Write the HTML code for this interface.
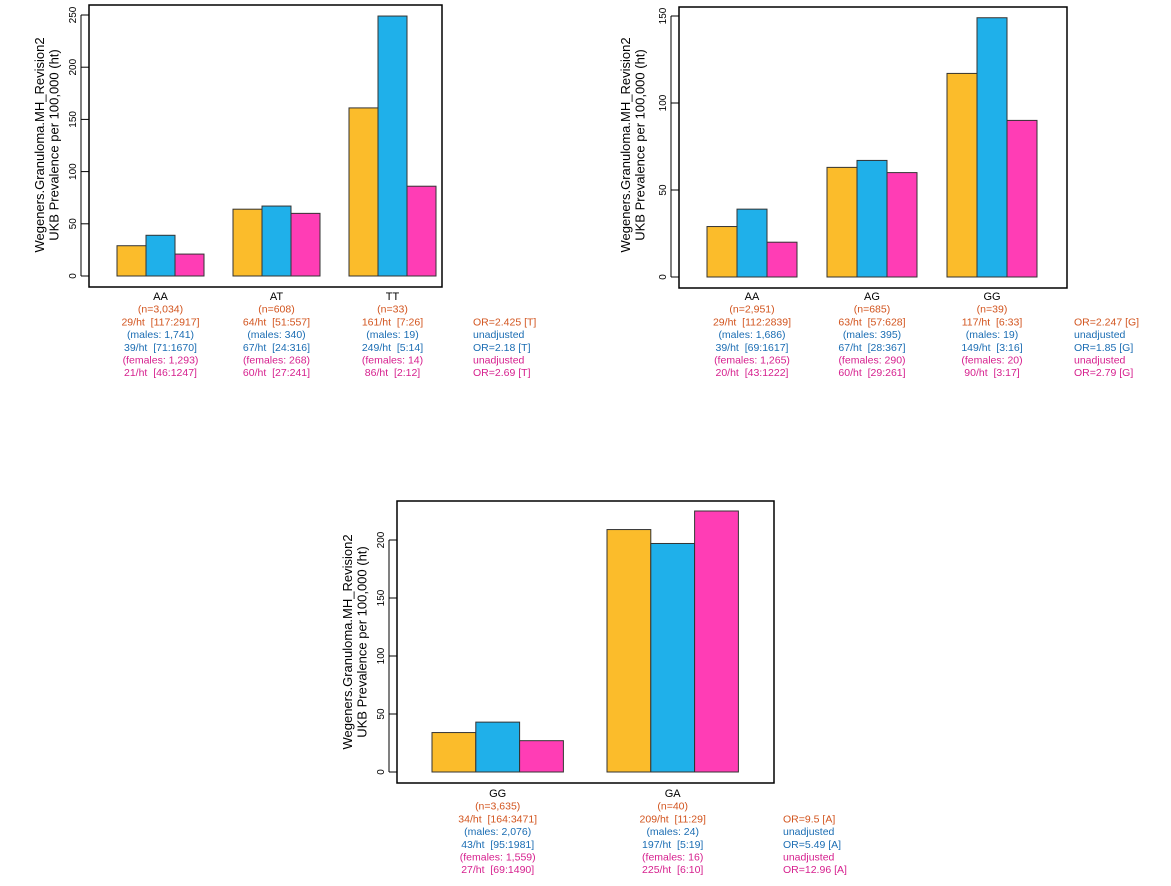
<!DOCTYPE html>
<html><head><meta charset="utf-8">
<style>
html,body{margin:0;padding:0;background:#fff;}
svg{display:block;font-family:"Liberation Sans",sans-serif;}
text{white-space:pre;}
</style></head>
<body>
<svg id="root" width="1171" height="886" viewBox="0 0 1171 886"></svg>
<script>
// ---- Chart 1 data ----
const c1Categories = ["AA","AT","TT"];
const c1All = [29,64,161];
const c1Males = [39,67,249];
const c1Females = [21,60,86];
const c1Ticks = [0,50,100,150,200,250];
const c1Lines = [
 ["(n=3,034)","29/ht  [117:2917]","(males: 1,741)","39/ht  [71:1670]","(females: 1,293)","21/ht  [46:1247]"],
 ["(n=608)","64/ht  [51:557]","(males: 340)","67/ht  [24:316]","(females: 268)","60/ht  [27:241]"],
 ["(n=33)","161/ht  [7:26]","(males: 19)","249/ht  [5:14]","(females: 14)","86/ht  [2:12]"]];
const c1OR = ["OR=2.425 [T]","unadjusted","OR=2.18 [T]","unadjusted","OR=2.69 [T]"];
// ---- Chart 2 data ----
const c2Categories = ["AA","AG","GG"];
const c2All = [29,63,117];
const c2Males = [39,67,149];
const c2Females = [20,60,90];
const c2Ticks = [0,50,100,150];
const c2Lines = [
 ["(n=2,951)","29/ht  [112:2839]","(males: 1,686)","39/ht  [69:1617]","(females: 1,265)","20/ht  [43:1222]"],
 ["(n=685)","63/ht  [57:628]","(males: 395)","67/ht  [28:367]","(females: 290)","60/ht  [29:261]"],
 ["(n=39)","117/ht  [6:33]","(males: 19)","149/ht  [3:16]","(females: 20)","90/ht  [3:17]"]];
const c2OR = ["OR=2.247 [G]","unadjusted","OR=1.85 [G]","unadjusted","OR=2.79 [G]"];
// ---- Chart 3 data ----
const c3Categories = ["GG","GA"];
const c3All = [34,209];
const c3Males = [43,197];
const c3Females = [27,225];
const c3Ticks = [0,50,100,150,200];
const c3Lines = [
 ["(n=3,635)","34/ht  [164:3471]","(males: 2,076)","43/ht  [95:1981]","(females: 1,559)","27/ht  [69:1490]"],
 ["(n=40)","209/ht  [11:29]","(males: 24)","197/ht  [5:19]","(females: 16)","225/ht  [6:10]"]];
const c3OR = ["OR=9.5 [A]","unadjusted","OR=5.49 [A]","unadjusted","OR=12.96 [A]"];

const NS="http://www.w3.org/2000/svg";
const root=document.getElementById('root');
const barColors=["#FBBC2B","#1FB0EA","#FF3DB5"];
const lineColors=["#D2541E","#D2541E","#1B6DB3","#1B6DB3","#D6208E","#D6208E"];
const orColors=["#D2541E","#1B6DB3","#1B6DB3","#D6208E","#D6208E"];
function mk(tag,attrs,parent){const e=document.createElementNS(NS,tag);for(const k in attrs)e.setAttribute(k,attrs[k]);(parent||root).appendChild(e);return e;}

function drawChart(cfg){
  const g=mk('g',{});
  
  
  const y=v=>cfg.y0-(v-0)*(cfg.y0-cfg.yTop)/(cfg.vTop);
  const series=[cfg.all,cfg.males,cfg.females];
  const snames=['all','males','females'];
  cfg.cats.forEach((c,i)=>{
    const gx=cfg.gx0+i*cfg.gstep;
    series.forEach((s,j)=>{
      const r=mk('rect',{x:gx+j*cfg.bw,y:y(s[i]),width:cfg.bw,height:y(0)-y(s[i]),fill:barColors[j],stroke:'#333','stroke-width':1},g);
      
      
    });
    const cx=gx+1.5*cfg.bw;
    const t=mk('text',{x:cx,y:cfg.labY,'text-anchor':'middle','font-size':11,fill:'#000'},g);
    t.textContent=c;
    
    
    cfg.lines[i].forEach((ln,k)=>{
      const tt=mk('text',{x:cx,y:cfg.labY+(k+1)*12.7,'text-anchor':'middle','font-size':10.5,fill:lineColors[k]},g);
      tt.textContent=ln;
      
      
    });
  });
  cfg.or.forEach((o,k)=>{
    const tt=mk('text',{x:cfg.orX,y:cfg.labY+(k+2)*12.7,'font-size':10.5,fill:orColors[k]},g);
    tt.textContent=o;
    
    
  });
  const box=mk('rect',{x:cfg.bx,y:cfg.by,width:cfg.bw2,height:cfg.bh,fill:'none',stroke:'#000','stroke-width':1.5},g);
  
  
  const ax=cfg.bx-8;
  cfg.ticks.forEach(v=>{
    mk('line',{x1:ax,x2:cfg.bx,y1:y(v),y2:y(v),stroke:'#000'},g);
    const tl=mk('text',{x:0,y:0,'text-anchor':'middle','font-size':10,fill:'#000',transform:`translate(${ax-5},${y(v)}) rotate(-90)`},g);
    tl.textContent=v;
    
    
  });
  mk('line',{x1:ax,x2:ax,y1:y(cfg.ticks[0]),y2:y(cfg.ticks[cfg.ticks.length-1]),stroke:'#000'},g);
  const yt=mk('text',{x:0,y:0,'text-anchor':'middle','font-size':13,fill:'#000',transform:`translate(${cfg.titleX},${cfg.titleY}) rotate(-90)`},g);
  
  
  const s1=mk('tspan',{x:0,dy:0},yt);s1.textContent='Wegeners.Granuloma.MH_Revision2';
  const s2=mk('tspan',{x:0,dy:14.5},yt);s2.textContent='UKB Prevalence per 100,000 (ht)';
}

drawChart({name:'chart-rs-aa-at-tt',cats:c1Categories,all:c1All,males:c1Males,females:c1Females,ticks:c1Ticks,lines:c1Lines,or:c1OR,
  y0:276,yTop:15,vTop:250,gx0:117,gstep:116,bw:29,bx:89,by:5,bw2:353,bh:282,labY:300,orX:473,titleX:44,titleY:145});
drawChart({name:'chart-rs-aa-ag-gg',cats:c2Categories,all:c2All,males:c2Males,females:c2Females,ticks:c2Ticks,lines:c2Lines,or:c2OR,
  y0:277,yTop:16,vTop:150,gx0:707,gstep:120,bw:30,bx:679,by:7,bw2:388,bh:281,labY:300,orX:1074,titleX:630,titleY:145});
drawChart({name:'chart-rs-gg-ga',cats:c3Categories,all:c3All,males:c3Males,females:c3Females,ticks:c3Ticks,lines:c3Lines,or:c3OR,
  y0:772,yTop:540,vTop:200,gx0:432,gstep:175,bw:43.8,bx:397,by:501,bw2:377,bh:282,labY:797,orX:783,titleX:352,titleY:642});
</script>
</body></html>
